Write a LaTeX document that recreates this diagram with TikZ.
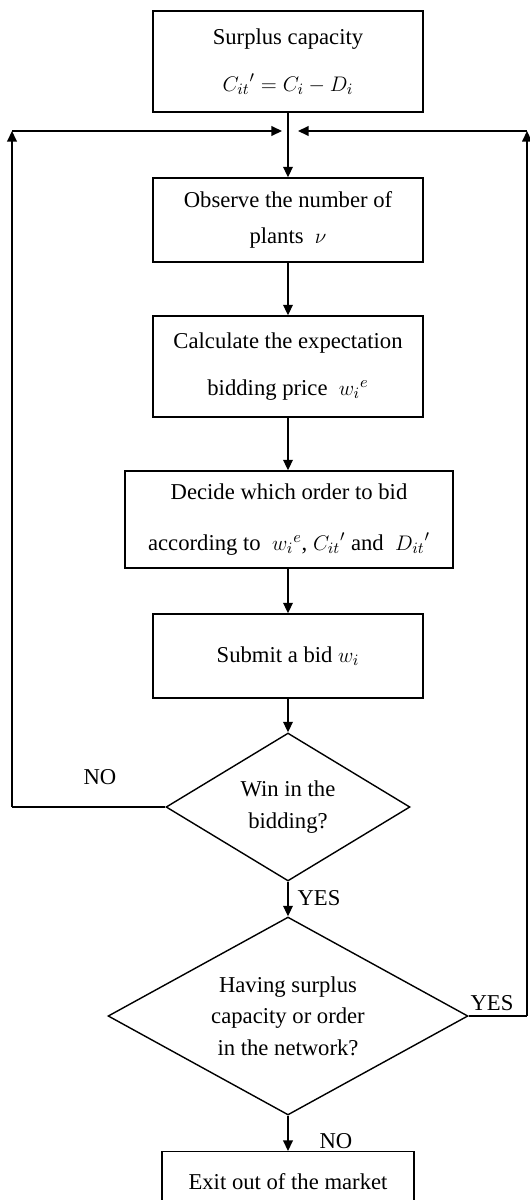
\documentclass[tikz,border=0pt]{standalone}
\usepackage{fontspec}
\setmainfont{Liberation Serif}
\usepackage{amsmath}
\usetikzlibrary{shapes.geometric,arrows.meta}

\tikzset{
  stepbox/.style={draw,line width=0.8pt,align=center,minimum width=5.4cm,inner sep=2pt},
  choice/.style={draw,diamond,line width=0.8pt,align=center,inner sep=0pt},
  flow/.style={line width=0.8pt,-{Triangle[length=6pt,width=5.5pt]}},
  wire/.style={line width=0.8pt}
}

\begin{document}
\begin{tikzpicture}[x=0.02cm,y=-0.02cm,font=\fontsize{12.9}{18}\selectfont]
	\clip (0,0) rectangle (530,1200);
	% boxes
	\node[stepbox,minimum height=2.02cm] (surplus) at (288,61.5) {Surplus capacity\\[9pt] ${C_{it}}'=C_i-D_i$};
	\node[stepbox,minimum height=1.68cm] (observe) at (288,220) {Observe the number of\\[2.4pt] plants\ \ $\nu$};
	\node[stepbox,minimum height=2.02cm] (calc) at (288,366.5) {Calculate the expectation\\[9pt] bidding price\ \ ${w_i}^e$};
	\node[stepbox,minimum width=6.56cm,minimum height=1.94cm] (decide) at (289,519.5) {Decide which order to bid\\[11pt] according to\ \ ${w_i}^e$, ${C_{it}}'$ and\ \ ${D_{it}}'$};
	\node[stepbox,minimum height=1.68cm] (submit) at (288,656) {Submit a bid $w_i$};
	\node[choice,aspect=1.65,minimum width=4.88cm,minimum height=2.96cm] (win) at (288,807) {Win in the\\ bidding?};
	\node[choice,aspect=1.82,minimum width=7.2cm,minimum height=3.96cm] (having) at (288,1016) {Having surplus\\ capacity or order\\ in the network?};
	\node[stepbox,anchor=north,minimum width=5.04cm,minimum height=1.2cm] (exit) at (288,1151) {Exit out of the market};
	% loop points
	\coordinate (join) at (288,131);
	\coordinate (joinL) at (282,131);
	\coordinate (joinR) at (298,131);
	\coordinate (topL) at (12,131);
	\coordinate (topR) at (527,131);
	\coordinate (noL) at (12,807);
	\coordinate (yesR) at (527,1016);
	% arrows
	\draw[flow] (surplus) -- (observe);
	\draw[flow] (observe) -- (calc);
	\draw[flow] (calc) -- (decide.north -| calc.south);
	\draw[flow] (decide.south -| submit.north) -- (submit);
	\draw[flow] (submit) -- (win);
	\draw[flow] (win) -- (having);
	\draw[flow] (having) -- (exit.north -| having.south);
	\draw[wire] (win.west) -- (noL);
	\draw[flow] (noL) -- (topL);
	\draw[flow] (topL) -- (joinL);
	\draw[wire] (having.east) -- (yesR);
	\draw[flow] (yesR) -- (topR);
	\draw[flow] (topR) -- (joinR);
	% labels
	\node (lblNo) at (100,777) {NO};
	\node (lblYes) at (319,898) {YES};
	\node (lblYesR) at (492,1003) {YES};
	\node (lblNoB) at (336,1141) {NO};
\end{tikzpicture}
\end{document}
